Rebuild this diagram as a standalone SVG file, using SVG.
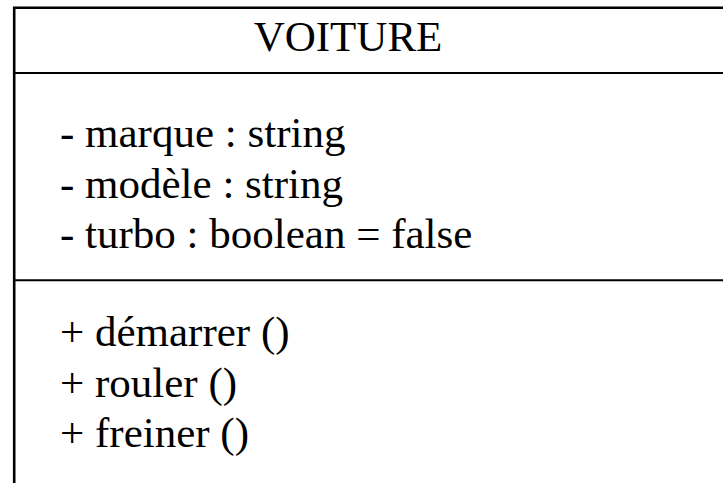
<svg xmlns="http://www.w3.org/2000/svg" width="723" height="483" viewBox="0 0 723 483">
  <style>
    .edge { stroke: #000; fill: none; }
    .txt { font-family: "Liberation Serif", "Times New Roman", serif; font-size: 43px; fill: #000; }
  </style>
  <rect x="0" y="0" width="723" height="483" fill="#fff"/>
  <g id="voiture">
    <!-- class frame: open on the right and bottom -->
    <path class="edge" stroke-width="2.6" d="M14.2,483 V7.8 H723"/>
    <line class="edge" stroke-width="2" x1="14" y1="73" x2="723" y2="73"/>
    <line class="edge" stroke-width="2" x1="14" y1="280.3" x2="723" y2="280.3"/>
    <!-- name -->
    <text class="txt" x="348" y="51" text-anchor="middle">VOITURE</text>
    <!-- attributes -->
    <text class="txt" x="60" y="146.5">- marque : string</text>
    <text class="txt" x="60" y="197.5">- modèle : string</text>
    <text class="txt" x="60" y="248">- turbo : boolean = false</text>
    <!-- operations -->
    <text class="txt" x="60" y="346">+ démarrer ()</text>
    <text class="txt" x="60" y="396.5">+ rouler ()</text>
    <text class="txt" x="60" y="447">+ freiner ()</text>
  </g>
</svg>
